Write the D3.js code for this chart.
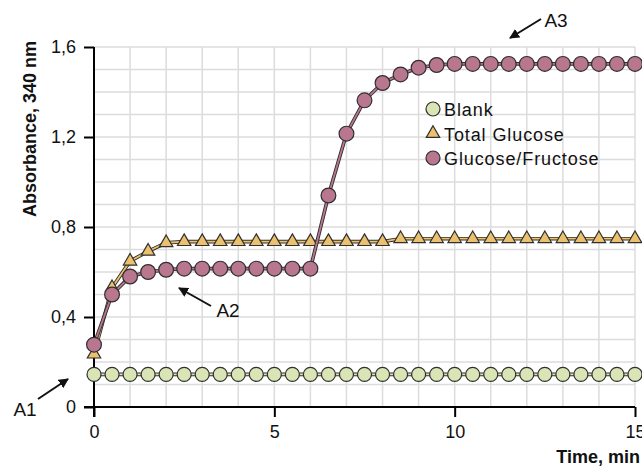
<!DOCTYPE html>
<meta charset="utf-8">
<style>
body {
  margin: 0;
  background: #fff;
}
svg {
  font-family: "Liberation Sans", Arial, sans-serif;
}
.grid line {
  stroke: #dcdcdc;
  stroke-width: 1.5px;
}
.axis line,
.axis path {
  stroke: #000;
  stroke-width: 2px;
}
.axis text {
  font-size: 18px;
  fill: #111;
}
.title {
  font-size: 18px;
  font-weight: bold;
  fill: #111;
}
.legend text {
  font-size: 18px;
  letter-spacing: 0.9px;
  fill: #111;
}
.note {
  font-size: 19px;
  fill: #111;
}
</style>
<body>
<script src="https://cdn.jsdelivr.net/npm/d3@7/dist/d3.min.js"></script>
<script>

// time in minutes, one reading every half minute
var time = [0, 0.5, 1, 1.5, 2, 2.5, 3, 3.5, 4, 4.5, 5, 5.5, 6, 6.5, 7, 7.5,
            8, 8.5, 9, 9.5, 10, 10.5, 11, 11.5, 12, 12.5, 13, 13.5, 14, 14.5, 15];

var blank = [0.145, 0.145, 0.145, 0.145, 0.145, 0.145, 0.145, 0.145, 0.145, 0.145, 0.145,
             0.145, 0.145, 0.145, 0.145, 0.145, 0.145, 0.145, 0.145, 0.145, 0.145,
             0.145, 0.145, 0.145, 0.145, 0.145, 0.145, 0.145, 0.145, 0.145, 0.145];

var totalGlucose = [0.235, 0.53, 0.648, 0.692, 0.73, 0.735, 0.735, 0.735, 0.735, 0.735, 0.735,
                    0.735, 0.735, 0.735, 0.735, 0.735, 0.735, 0.748, 0.748, 0.748, 0.748,
                    0.748, 0.748, 0.748, 0.748, 0.748, 0.748, 0.748, 0.748, 0.748, 0.748];

var glucoseFructose = [0.277, 0.50, 0.58, 0.60, 0.61, 0.615, 0.615, 0.615, 0.615, 0.615, 0.615,
                       0.615, 0.615, 0.94, 1.215, 1.363, 1.44, 1.478, 1.508, 1.52, 1.525,
                       1.525, 1.525, 1.525, 1.525, 1.525, 1.525, 1.525, 1.525, 1.525, 1.525];

var xTicks = [0, 5, 10, 15];
var yTicks = [0, 0.4, 0.8, 1.2, 1.6];
var legendNames = ["Blank", "Total Glucose", "Glucose/Fructose"];

// set the dimensions and margins of the graph
var margin = {top: 47, right: 7, bottom: 59, left: 94},
    width = 642 - margin.left - margin.right,
    height = 466 - margin.top - margin.bottom;

var x = d3.scaleLinear().domain([0, 15]).range([0, width]);
var y = d3.scaleLinear().domain([0, 1.6]).range([height, 0]);

var svg = d3.select("body").append("svg")
    .attr("width", 642)
    .attr("height", 466)
  .append("g")
    .attr("transform", "translate(" + margin.left + "," + margin.top + ")");

// grid, one line per minute and per 0.1
var grid = svg.append("g").attr("class", "grid");
grid.selectAll(".vx")
    .data(d3.range(1, 16))
  .enter().append("line")
    .attr("x1", function(d) { return x(d); })
    .attr("x2", function(d) { return x(d); })
    .attr("y1", 0)
    .attr("y2", height);
grid.selectAll(".hy")
    .data(d3.range(1, 17))
  .enter().append("line")
    .attr("x1", 0)
    .attr("x2", width)
    .attr("y1", function(d) { return y(d / 10); })
    .attr("y2", function(d) { return y(d / 10); });

// axes
var fmt = function(d) { return d === 0 ? "0" : d.toFixed(1).replace(".", ","); };

svg.append("g")
    .attr("class", "axis")
    .attr("transform", "translate(0," + height + ")")
    .call(d3.axisBottom(x).tickValues(xTicks).tickSize(10).tickPadding(8).tickSizeOuter(0))
    .call(function(g) { g.select(".domain").remove(); })
    .call(function(g) { g.selectAll("text").attr("font-size", null); });

svg.append("g")
    .attr("class", "axis")
    .call(d3.axisLeft(y).tickValues(yTicks).tickFormat(fmt).tickSize(10).tickPadding(8).tickSizeOuter(0))
    .call(function(g) { g.select(".domain").remove(); })
    .call(function(g) { g.selectAll("text").attr("font-size", null); });

svg.selectAll(".axis").attr("font-family", null);

// axis lines, running through the origin ticks
svg.append("line")
    .attr("class", "axis")
    .attr("x1", -10).attr("x2", x(15))
    .attr("y1", height).attr("y2", height)
    .style("stroke", "#000").style("stroke-width", 2);
svg.append("line")
    .attr("x1", 0).attr("x2", 0)
    .attr("y1", y(1.6)).attr("y2", height + 10)
    .style("stroke", "#000").style("stroke-width", 2);

// axis titles
svg.append("text")
    .attr("class", "title")
    .attr("transform", "translate(" + (36 - margin.left) + "," + (129 - margin.top) + ") rotate(-90)")
    .attr("text-anchor", "middle")
    .text("Absorbance, 340 nm");

svg.append("text")
    .attr("class", "title")
    .attr("x", 640 - margin.left)
    .attr("y", 463 - margin.top)
    .attr("text-anchor", "end")
    .text("Time, min");

// the three series
var series = [
  {name: legendNames[0], values: blank, fill: "#dae5b6", shape: "circle", r: 7},
  {name: legendNames[1], values: totalGlucose, fill: "#ebc06f", shape: "triangle", r: 7},
  {name: legendNames[2], values: glucoseFructose, fill: "#b8768f", shape: "circle", r: 7.4}
];

var line = d3.line()
    .x(function(d, i) { return x(time[i]); })
    .y(function(d) { return y(d); });

var triangle = d3.symbol().type(d3.symbolTriangle).size(78);

series.forEach(function(s) {
  var g = svg.append("g");
  g.append("path")
      .attr("d", line(s.values))
      .attr("fill", "none")
      .attr("stroke", "#2f2f2f")
      .attr("stroke-width", 3.6);
  g.append("path")
      .attr("d", line(s.values))
      .attr("fill", "none")
      .attr("stroke", s.fill)
      .attr("stroke-width", 1.8);

  if (s.shape === "circle") {
    g.selectAll("circle")
        .data(s.values)
      .enter().append("circle")
        .attr("cx", function(d, i) { return x(time[i]); })
        .attr("cy", function(d) { return y(d); })
        .attr("r", s.r)
        .attr("fill", s.fill)
        .attr("stroke", "#2f2f2f")
        .attr("stroke-width", 1.2);
  } else {
    g.selectAll("path.tri")
        .data(s.values)
      .enter().append("path")
        .attr("class", "tri")
        .attr("d", triangle)
        .attr("transform", function(d, i) { return "translate(" + x(time[i]) + "," + y(d) + ")"; })
        .attr("fill", s.fill)
        .attr("stroke", "#2f2f2f")
        .attr("stroke-width", 1.2);
  }
});

// legend
var legend = svg.append("g")
    .attr("class", "legend")
    .attr("transform", "translate(" + (433 - margin.left) + "," + (109 - margin.top) + ")");

series.forEach(function(s, i) {
  var item = legend.append("g").attr("transform", "translate(0," + (i * 24.5) + ")");
  if (s.shape === "circle") {
    item.append("circle").attr("r", 7).attr("fill", s.fill)
        .attr("stroke", "#2f2f2f").attr("stroke-width", 1.2);
  } else {
    item.append("path").attr("d", triangle).attr("fill", s.fill)
        .attr("stroke", "#2f2f2f").attr("stroke-width", 1.2);
  }
  item.append("text")
      .attr("x", 11)
      .attr("y", 7)
      .text(s.name);
});

// annotations A1, A2, A3 with arrows
svg.append("defs").append("marker")
    .attr("id", "head")
    .attr("viewBox", "0 0 10 10")
    .attr("refX", 9).attr("refY", 5)
    .attr("markerWidth", 5).attr("markerHeight", 5)
    .attr("orient", "auto")
  .append("path")
    .attr("d", "M0,0L10,5L0,10z")
    .attr("fill", "#111");

var notes = [
  {label: "A1", tx: 25, ty: 416, x1: 38, y1: 399, x2: 68, y2: 379},
  {label: "A2", tx: 228, ty: 317, x1: 211, y1: 306, x2: 179, y2: 288},
  {label: "A3", tx: 556, ty: 27, x1: 541, y1: 19, x2: 510, y2: 38}
];

notes.forEach(function(n) {
  svg.append("line")
      .attr("x1", n.x1 - margin.left).attr("y1", n.y1 - margin.top)
      .attr("x2", n.x2 - margin.left).attr("y2", n.y2 - margin.top)
      .attr("stroke", "#111")
      .attr("stroke-width", 2)
      .attr("marker-end", "url(#head)");
  svg.append("text")
      .attr("class", "note")
      .attr("x", n.tx - margin.left)
      .attr("y", n.ty - margin.top)
      .attr("text-anchor", "middle")
      .text(n.label);
});

</script>
</body>
